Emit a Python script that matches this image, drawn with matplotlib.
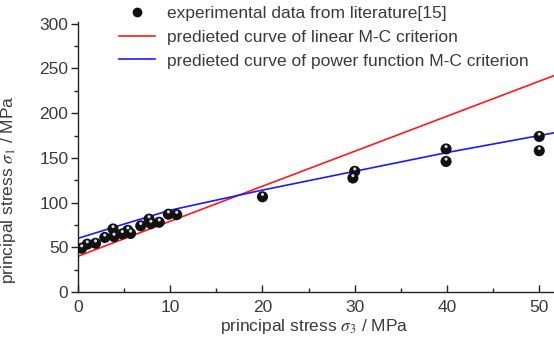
import matplotlib
matplotlib.use("Agg")
import matplotlib.pyplot as plt
import matplotlib.transforms as mtrans
from matplotlib.lines import Line2D

plt.rcParams['font.family'] = ['Liberation Sans', 'DejaVu Sans']
plt.rcParams['mathtext.fontset'] = 'stix'

sigma3_exp = [0.4, 1.0, 1.9, 2.9, 3.8, 3.9, 4.8, 5.4, 5.7, 6.8, 7.7, 7.9, 8.8, 9.8, 10.7,
              20.0, 29.8, 30.0, 39.9, 39.9, 50.0, 50.0]
sigma1_exp = [49, 53.5, 54.5, 61, 70.5, 62, 65, 69, 65.5, 74, 81.5, 76.5, 78, 87, 86.5,
              106.5, 127.5, 135, 160, 146, 174, 158]

# linear M-C criterion curve (read end points)
sigma3_lin = [0.0, 51.6]
sigma1_lin = [40.0, 242.0]

# power-function M-C criterion curve (read points)
sigma3_pow = [0.0, 5.0, 10.0, 20.0, 30.0, 40.0, 51.6]
sigma1_pow = [60.0, 76.0, 91.5, 114.0, 135.0, 156.0, 178.0]

x_ticks = [0, 10, 20, 30, 40, 50]
y_ticks = [0, 50, 100, 150, 200, 250, 300]

legend_labels = ["experimental data from literature[15]",
                 "predieted curve of linear M-C criterion",
                 "predieted curve of power function M-C criterion"]

txt = '#3a3a3a'
fs = 12.5
fig = plt.figure(figsize=(5.54, 3.42), dpi=100)
ax = fig.add_axes([78/554, 50/342, 1 - 78/554, 270/342])

ax.plot(sigma3_lin, sigma1_lin, color='#ff1a1a', lw=1.2, zorder=2)
ax.plot(sigma3_pow, sigma1_pow, color='#1a1aff', lw=1.2, zorder=2)

ax.scatter(sigma3_exp, sigma1_exp, s=64, color='#111111', edgecolors='none', zorder=3)
hl = mtrans.offset_copy(ax.transData, fig=fig, x=0, y=1.7, units='points')
ax.scatter(sigma3_exp, sigma1_exp, s=5, color='#d8d8d8', edgecolors='none', zorder=4,
           transform=hl)

ax.set_xlim(0, 51.6)
ax.set_ylim(0, 302)
ax.set_xticks(x_ticks)
ax.set_yticks(y_ticks)
ax.set_xticks([5, 15, 25, 35, 45], minor=True)
ax.set_yticks([25, 75, 125, 175, 225, 275], minor=True)
for s in ['top', 'right']:
    ax.spines[s].set_visible(False)
for s in ['left', 'bottom']:
    ax.spines[s].set_color('#222222')
    ax.spines[s].set_linewidth(1.0)
ax.tick_params(axis='x', which='major', direction='in', length=5, width=1, colors='#222222',
               labelcolor=txt, labelsize=fs, pad=6)
ax.tick_params(axis='x', which='minor', direction='in', length=3, width=1, colors='#222222')
ax.tick_params(axis='y', which='major', direction='out', length=5, width=1, colors='#222222',
               labelcolor=txt, labelsize=fs, pad=2)
ax.tick_params(axis='y', which='minor', direction='out', length=3, width=1, colors='#222222')

ax.set_xlabel(r'principal stress $\sigma_3$ / MPa', fontsize=fs, color=txt)
ax.xaxis.set_label_coords(0.496, -0.093)
ax.set_ylabel(r'principal stress $\sigma_1$ / MPa', fontsize=fs, color=txt)
ax.yaxis.set_label_coords(-0.125, 0.38)

handles = [Line2D([], [], ls='none', marker='o', ms=6, color='#111111'),
           Line2D([], [], color='#ff1a1a', lw=1.2),
           Line2D([], [], color='#1a1aff', lw=1.2)]
fig.legend(handles, legend_labels, loc='upper left', bbox_to_anchor=(117/554, 1.0 - 4/342),
           frameon=False, fontsize=fs, labelcolor=txt, handlelength=2.1,
           handletextpad=0.7, labelspacing=0.5, borderaxespad=0, borderpad=0.1)

fig.savefig('out.png', dpi=100)
